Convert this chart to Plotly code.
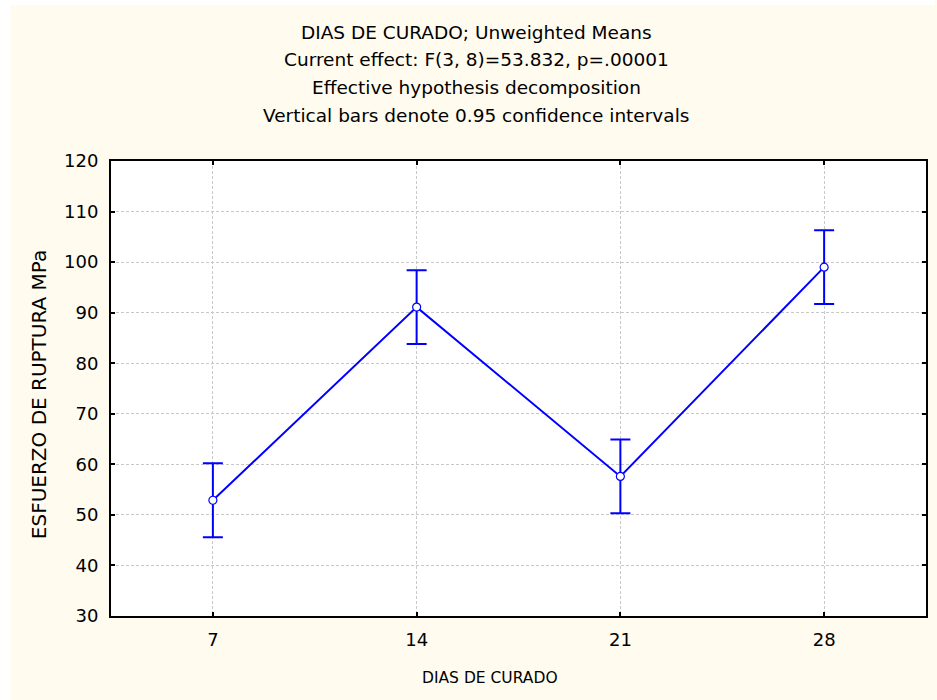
import plotly.graph_objects as go

dias = ["7", "14", "21", "28"]
media = [52.9, 91.1, 57.6, 99.0]
ic95 = [7.3, 7.3, 7.3, 7.3]

title_lines = [
    "DIAS DE CURADO; Unweighted Means",
    "Current effect: F(3, 8)=53.832, p=.00001",
    "Effective hypothesis decomposition",
    "Vertical bars denote 0.95 confidence intervals",
]
x_title = "DIAS DE CURADO"
y_title = "ESFUERZO DE RUPTURA MPa"

FONT = "DejaVu Sans"
BLUE = "#0000FF"
CREAM = "#FFFBEF"

fig = go.Figure()
fig.add_trace(go.Scatter(
    x=dias, y=media, mode="lines+markers",
    line=dict(color=BLUE, width=2),
    marker=dict(symbol="circle", size=8, color="white", line=dict(color=BLUE, width=1.2)),
    error_y=dict(type="data", array=ic95, visible=True, color=BLUE, thickness=2, width=10),
    showlegend=False, hoverinfo="x+y",
))

W, H = 937, 700
L, R, T, B = 111, 9, 161, 84
ph = H - T - B
pw = W - L - R

def py(ypix):
    return (H - B - ypix) / ph

def px(xpix):
    return (xpix - L) / pw

ann = []
for t, yp in zip(title_lines, [33, 60, 88, 116]):
    ann.append(dict(text=t, xref="paper", yref="paper", x=px(477), y=py(yp),
                    xanchor="center", yanchor="middle", showarrow=False,
                    font=dict(family=FONT, size=18.5, color="black")))
ann.append(dict(text=x_title, xref="paper", yref="paper", x=px(491), y=py(678),
                xanchor="center", yanchor="middle", showarrow=False,
                font=dict(family=FONT, size=15.5, color="black")))
ann.append(dict(text=y_title, xref="paper", yref="paper", x=px(39), y=py(395),
                xanchor="center", yanchor="middle", showarrow=False, textangle=-90,
                font=dict(family=FONT, size=20, color="black")))

axis_common = dict(
    showline=True, linecolor="black", linewidth=2, mirror="allticks",
    ticks="inside", ticklen=4, tickwidth=2, tickcolor="black",
    showgrid=True, gridcolor="#C8C8C8", gridwidth=1, griddash="3px,2px",
    zeroline=False, tickfont=dict(family=FONT, size=18, color="black"),
)

fig.update_layout(
    width=W, height=H,
    margin=dict(l=L, r=R, t=T, b=B, pad=0),
    paper_bgcolor=CREAM, plot_bgcolor="white",
    annotations=ann,
    xaxis=dict(type="category", range=[-0.5, 3.5], ticklabelstandoff=6, **axis_common),
    yaxis=dict(range=[30, 120], dtick=10, tick0=30, ticklabelstandoff=7, **axis_common),
    shapes=[
        dict(type="rect", xref="paper", yref="paper", x0=px(0), x1=px(10), y0=py(H), y1=py(0),
             fillcolor="white", line=dict(width=0), layer="above"),
        dict(type="rect", xref="paper", yref="paper", x0=px(0), x1=px(W), y0=py(5), y1=py(0),
             fillcolor="white", line=dict(width=0), layer="above"),
    ],
)

fig.write_html("out.html", config={"displayModeBar": False},
               post_script="document.body.style.margin='0';")
